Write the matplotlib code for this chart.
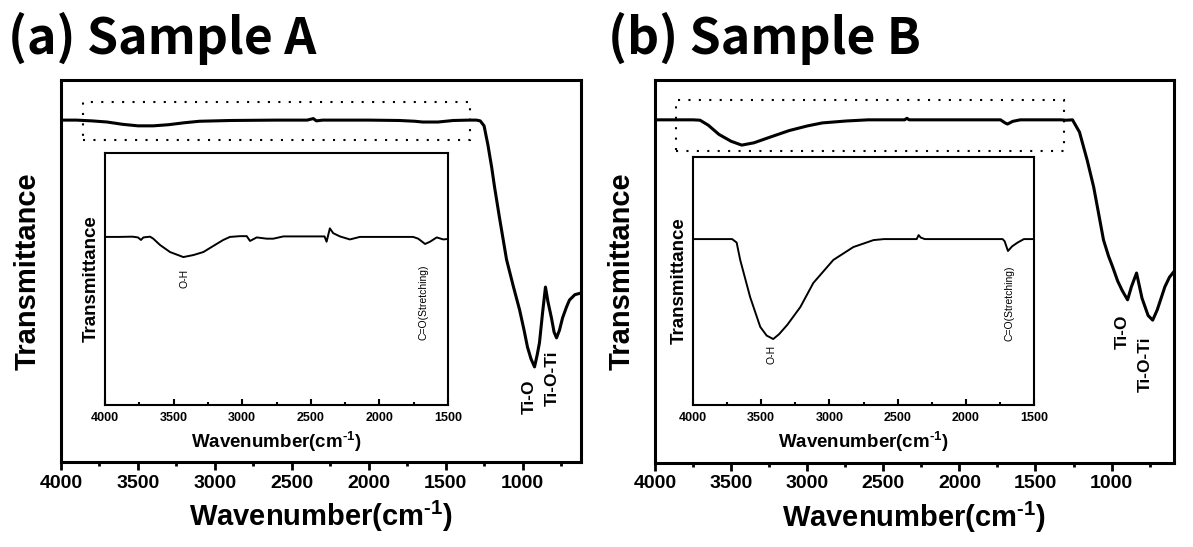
import matplotlib
matplotlib.use("Agg")
import matplotlib.pyplot as plt
from matplotlib.ticker import MultipleLocator, NullLocator
from matplotlib.patches import Rectangle

plt.rcParams['font.family'] = ['Liberation Sans', 'DejaVu Sans']
plt.rcParams['mathtext.fontset'] = 'custom'
plt.rcParams['mathtext.rm'] = 'Liberation Sans:bold'
plt.rcParams['mathtext.default'] = 'regular'

# ---- Sample A, full spectrum ----
wn_a = [4000, 3900, 3800, 3700, 3600, 3500, 3400, 3300, 3200, 3100, 3000, 2900,
        2600, 2400, 2360, 2340, 2300, 2000, 1800, 1700, 1650, 1550, 1450, 1350,
        1300, 1275, 1250, 1225, 1200, 1182, 1150, 1104, 1060, 1019, 990, 968, 945,
        922, 905, 890, 870, 851, 835, 812, 795, 779, 760, 740, 715, 695, 660, 623]
tr_a = [89.5, 89.5, 89.3, 89.0, 88.4, 88.0, 88.0, 88.3, 88.8, 89.2, 89.3, 89.4,
        89.5, 89.5, 89.9, 89.3, 89.5, 89.5, 89.4, 89.2, 89.0, 89.0, 89.4, 89.5,
        89.5, 89.3, 88.0, 83.0, 77.0, 72.0, 64.0, 53.0, 46.0, 39.8, 34.5, 30.1, 27.0,
        24.9, 28.0, 31.2, 39.0, 45.8, 42.0, 37.7, 34.0, 32.5, 34.5, 37.7, 40.5, 42.4, 43.8, 44.2]

# ---- Sample A, inset 4000-1500 ----
wn_ai = [4000, 3900, 3800, 3760, 3738, 3720, 3672, 3648, 3599, 3526, 3429, 3356,
         3283, 3211, 3138, 3089, 3016, 2967, 2943, 2894, 2821, 2773, 2700, 2400,
         2385, 2361, 2337, 2288, 2215, 2142, 1754, 1717, 1667, 1631, 1582, 1534, 1500]
tr_ai = [66.7, 66.7, 66.8, 66.5, 65.5, 66.5, 66.8, 66.0, 63.5, 60.7, 58.7, 59.5,
         60.7, 63.1, 65.5, 66.7, 67.0, 67.0, 65.1, 66.5, 66.0, 66.0, 66.9, 66.9,
         64.8, 70.1, 68.2, 66.9, 65.7, 66.7, 66.7, 66.0, 63.9, 64.8, 66.5, 65.7, 65.9]

# ---- Sample B, full spectrum ----
wn_b = [4000, 3750, 3704, 3650, 3580, 3500, 3430, 3350, 3250, 3118, 3000, 2900,
        2743, 2600, 2360, 2345, 2330, 1730, 1700, 1684, 1650, 1600, 1330,
        1300, 1257, 1211, 1160, 1118, 1080, 1053, 1020, 993, 960, 930, 895,
        870, 836, 800, 760, 730, 700, 650, 620, 592]
tr_b = [89.6, 89.6, 89.5, 88.2, 85.8, 84.0, 83.0, 83.6, 85.0, 86.8, 88.0, 88.8,
        89.3, 89.6, 89.6, 90.0, 89.6, 89.6, 88.8, 88.5, 89.2, 89.6, 89.6,
        89.5, 89.6, 86.4, 79.0, 72.1, 64.0, 58.2, 54.0, 51.2, 47.5, 45.0, 42.6,
        46.0, 49.6, 43.0, 38.5, 37.3, 40.0, 46.0, 48.5, 49.9]

# ---- Sample B, inset 4000-1500 ----
wn_bi = [4000, 3800, 3713, 3680, 3654, 3581, 3507, 3460, 3412, 3370, 3309, 3213,
         3118, 2971, 2824, 2676, 2600, 2360, 2346, 2330, 2300, 1730, 1715, 1691,
         1660, 1620, 1574, 1500]
tr_bi = [66.9, 66.9, 66.9, 65.5, 58.5, 43.5, 31.5, 28.0, 26.6, 28.5, 32.3, 39.5,
         49.2, 58.5, 63.7, 66.5, 66.9, 66.9, 68.5, 67.5, 66.9, 66.9, 66.0, 62.1,
         64.0, 65.5, 66.9, 66.9]

XLABEL = r'Wavenumber(cm$^{\text{-1}}$)'

fig = plt.figure(figsize=(11.93, 5.47), dpi=100)
W, H = 1193, 547


def px_axes(l, t, r, b):
    return fig.add_axes([l / W, 1 - b / H, (r - l) / W, (b - t) / H])


def main_panel(ax, wn, tr, xmin, box, peaks, title, title_x):
    ax.plot(wn, tr, color='black', lw=2.2)
    ax.set_xlim(4000, xmin)
    ax.set_ylim(0, 100)
    ax.xaxis.set_major_locator(MultipleLocator(500))
    ax.xaxis.set_minor_locator(MultipleLocator(250))
    ax.yaxis.set_major_locator(NullLocator())
    ax.tick_params(axis='x', which='major', direction='out', length=6, width=2,
                   labelsize=14, pad=3)
    ax.tick_params(axis='x', which='minor', direction='out', length=3, width=2)
    for lab in ax.get_xticklabels():
        lab.set_fontweight('bold')
    for s in ax.spines.values():
        s.set_linewidth(2.2)
    ax.set_xlabel(XLABEL, fontsize=21, fontweight='bold', labelpad=5)
    ax.set_ylabel('Transmittance', fontsize=21, fontweight='bold', labelpad=14)
    x0, x1, y0, y1 = box
    ax.add_patch(Rectangle((x0, y0), x1 - x0, y1 - y0, fill=False, edgecolor='black',
                           lw=1.5, linestyle=(0, (1, 4)), clip_on=False))
    for txt, x, y in peaks:
        ax.text(x, y, txt, rotation=90, ha='center', va='center', fontsize=12.5,
                fontweight='bold')
    fig.text(title_x / W, 1 - 38 / H, title, fontsize=36, fontweight='bold',
             family=['Noto Sans CJK KR', 'DejaVu Sans'], ha='left', va='center')


def inset_panel(ax, wn, tr, labels):
    ax.plot(wn, tr, color='black', lw=1.4)
    ax.set_xlim(4000, 1500)
    ax.set_ylim(0, 100)
    ax.xaxis.set_major_locator(MultipleLocator(500))
    ax.xaxis.set_minor_locator(MultipleLocator(250))
    ax.yaxis.set_major_locator(NullLocator())
    ax.tick_params(axis='x', which='major', direction='in', length=4, width=1.5,
                   labelsize=9, pad=5)
    ax.tick_params(axis='x', which='minor', direction='in', length=2.5, width=1.5)
    for lab in ax.get_xticklabels():
        lab.set_fontweight('bold')
    for s in ax.spines.values():
        s.set_linewidth(1.5)
    ax.set_xlabel(XLABEL, fontsize=13.5, fontweight='bold', labelpad=4)
    ax.set_ylabel('Transmittance', fontsize=13.5, fontweight='bold', labelpad=4)
    for txt, x, y in labels:
        ax.text(x, y, txt, rotation=90, ha='center', va='center', fontsize=7.5)


ax_a = px_axes(61, 80, 581, 462)
main_panel(ax_a, wn_a, tr_a, 620, (3857, 1344, 84.3, 94.2),
           [('Ti-O', 955, 17.0), ('Ti-O-Ti', 805, 22.0)], '(a) Sample A', 8)
ax_ai = px_axes(105, 153, 448, 405)
inset_panel(ax_ai, wn_ai, tr_ai, [('O-H', 3417, 50.4), ('C=O(Stretching)', 1682, 40.9)])

ax_b = px_axes(655, 80, 1174, 463)
main_panel(ax_b, wn_b, tr_b, 590, (3862, 1316, 81.5, 94.8),
           [('Ti-O', 928, 34.2), ('Ti-O-Ti', 776, 25.8)], '(b) Sample B', 608)
ax_bi = px_axes(693, 157, 1034, 405)
inset_panel(ax_bi, wn_bi, tr_bi, [('O-H', 3421, 20.2), ('C=O(Stretching)', 1683, 41.1)])

fig.savefig('out.png', dpi=100)
